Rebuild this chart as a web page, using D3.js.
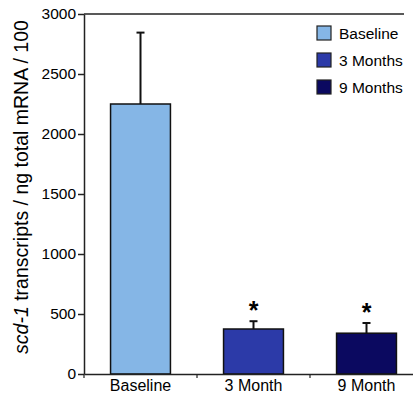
<!DOCTYPE html>
<html lang="en">
<head>
<meta charset="UTF-8">
<title>scd-1 transcripts</title>
<script src="https://cdn.jsdelivr.net/npm/d3@7"></script>
<style>
	body {
		margin: 0;
		background: #ffffff;
		font-family: Arial, "Liberation Sans", sans-serif;
	}
	.axis text {
		font-size: 15.5px;
		font-family: Arial, "Liberation Sans", sans-serif;
		fill: #000;
	}
	.axis path, .axis line {
		stroke: #222;
		stroke-width: 1.5px;
	}
	.xaxis text {
		font-size: 16px;
	}
	.legend text {
		font-size: 15.5px;
	}
</style>
</head>
<body>
<div id="chart"></div>
<script>
	// values
	var categories = ['Baseline', '3 Month', '9 Month'];
	var means = [2250, 375, 340];
	var errUp = [595, 65, 85];
	var starred = [false, true, true];
	var legendLabels = ['Baseline', '3 Months', '9 Months'];
	var colors = ['#85b6e6', '#2c3aa8', '#0b0960'];
	var yTicks = [0, 500, 1000, 1500, 2000, 2500, 3000];

	var W = 413, H = 394;
	var margin = {top: 14, left: 84, bottom: 20};
	var plotH = H - margin.top - margin.bottom;
	var bandW = 113;

	var svg = d3.select('#chart').append('svg')
		.attr('width', W)
		.attr('height', H);

	var x = d3.scaleBand()
		.domain(categories)
		.range([0, bandW * categories.length])
		.paddingInner(0.47)
		.paddingOuter(0.235);

	var y = d3.scaleLinear()
		.domain([0, 3000])
		.range([plotH, 0]);

	var g = svg.append('g')
		.attr('transform', 'translate(' + margin.left + ',' + margin.top + ')');

	// top frame line
	g.append('line')
		.attr('x1', 0).attr('x2', 320)
		.attr('y1', 0).attr('y2', 0)
		.style('stroke', '#222')
		.style('stroke-width', 1.5);

	// bars
	g.selectAll('.bar')
		.data(categories)
		.enter().append('rect')
		.attr('class', 'bar')
		.attr('x', function (d) { return x(d); })
		.attr('y', function (d, i) { return y(means[i]); })
		.attr('width', x.bandwidth())
		.attr('height', function (d, i) { return y(0) - y(means[i]); })
		.style('fill', function (d, i) { return colors[i]; })
		.style('stroke', '#111')
		.style('stroke-width', 1.5);

	// error bars, upper only
	var eb = g.selectAll('.err')
		.data(categories)
		.enter().append('g')
		.attr('class', 'err');

	eb.append('line')
		.attr('x1', function (d) { return x(d) + x.bandwidth() / 2; })
		.attr('x2', function (d) { return x(d) + x.bandwidth() / 2; })
		.attr('y1', function (d, i) { return y(means[i]); })
		.attr('y2', function (d, i) { return y(means[i] + errUp[i]); })
		.style('stroke', '#111')
		.style('stroke-width', 2);

	eb.append('line')
		.attr('x1', function (d) { return x(d) + x.bandwidth() / 2 - 4; })
		.attr('x2', function (d) { return x(d) + x.bandwidth() / 2 + 4; })
		.attr('y1', function (d, i) { return y(means[i] + errUp[i]); })
		.attr('y2', function (d, i) { return y(means[i] + errUp[i]); })
		.style('stroke', '#111')
		.style('stroke-width', 2);

	// significance stars
	g.selectAll('.star')
		.data(categories.filter(function (d, i) { return starred[i]; }))
		.enter().append('text')
		.attr('class', 'star')
		.attr('x', function (d) { return x(d) + x.bandwidth() / 2; })
		.attr('y', function (d) {
			var i = categories.indexOf(d);
			return y(means[i] + errUp[i]) - 2;
		})
		.attr('text-anchor', 'middle')
		.style('font-size', '25px')
		.style('font-weight', 'bold')
		.text('*');

	// axes
	g.append('g')
		.attr('class', 'axis')
		.call(d3.axisLeft(y).tickValues(yTicks).tickFormat(d3.format('d'))
			.tickSize(6).tickPadding(2).tickSizeOuter(0));

	var xAxis = g.append('g')
		.attr('class', 'axis xaxis')
		.attr('transform', 'translate(0,' + plotH + ')')
		.call(d3.axisBottom(x).tickSize(0).tickPadding(6).tickSizeOuter(0));

	// category boundary ticks
	xAxis.selectAll('.sep')
		.data(d3.range(categories.length + 1))
		.enter().append('line')
		.attr('class', 'sep')
		.attr('x1', function (d) { return d * bandW; })
		.attr('x2', function (d) { return d * bandW; })
		.attr('y1', 0).attr('y2', 4)
		.style('stroke', '#222')
		.style('stroke-width', 1.2);

	// y title
	var title = svg.append('text')
		.attr('transform', 'translate(28,187) rotate(-90)')
		.attr('text-anchor', 'middle')
		.style('font-size', '19.5px');
	title.append('tspan').style('font-style', 'italic').text('scd-1');
	title.append('tspan').text(' transcripts / ng total mRNA / 100');

	// legend
	var legend = svg.selectAll('.legend')
		.data(legendLabels)
		.enter().append('g')
		.attr('class', 'legend')
		.attr('transform', function (d, i) {
			return 'translate(317,' + (26 + i * 27) + ')';
		});

	legend.append('rect')
		.attr('width', 14)
		.attr('height', 14)
		.style('fill', function (d, i) { return colors[i]; })
		.style('stroke', '#222')
		.style('stroke-width', 1.2);

	legend.append('text')
		.attr('x', 22)
		.attr('y', 13)
		.text(function (d) { return d; });
</script>
</body>
</html>
